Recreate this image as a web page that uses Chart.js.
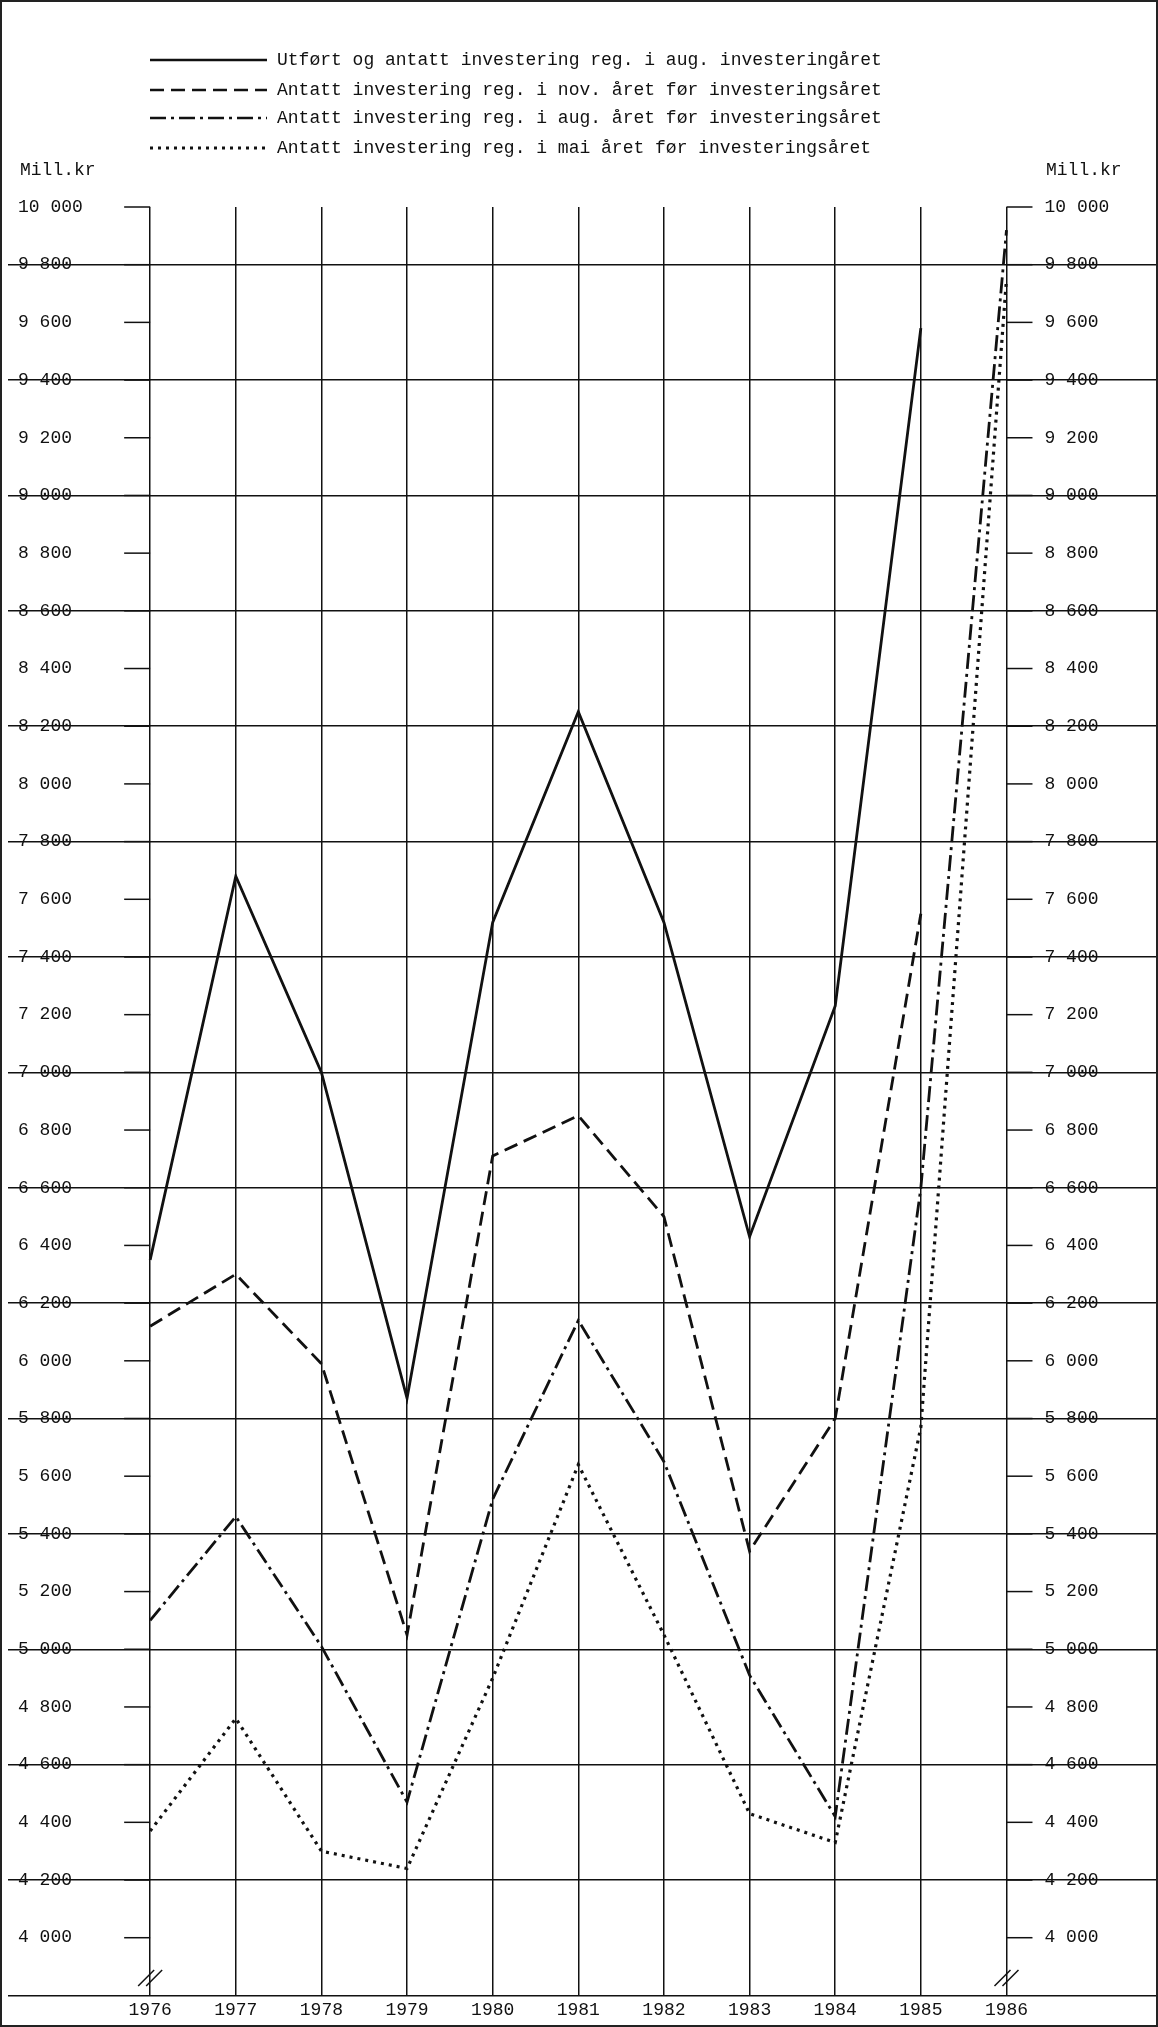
<!DOCTYPE html>
<html>
<head>
<meta charset="utf-8">
<script src="https://cdn.jsdelivr.net/npm/chart.js@4"></script>
<style>
  html, body { margin: 0; padding: 0; background: #fff; }
  #wrap { width: 1158px; height: 2027px; position: relative; box-sizing: border-box; border: 2px solid #222; }
  canvas { display: block; }
</style>
</head>
<body>
<div id="wrap"><canvas id="chart" width="1154" height="2023"></canvas></div>
<script>
// Data (mill. kr)
const years = [1976, 1977, 1978, 1979, 1980, 1981, 1982, 1983, 1984, 1985, 1986];
const utfort = [6350, 7680, 7000, 5870, 7520, 8250, 7520, 6430, 7230, 9580, null];
const novAaretFor = [6120, 6300, 5990, 5050, 6710, 6850, 6500, 5340, 5800, 7550, null];
const augAaretFor = [5100, 5460, 5010, 4470, 5520, 6140, 5650, 4910, 4420, 6600, 9920];
const maiAaretFor = [4370, 4760, 4300, 4240, 4900, 5640, 5050, 4430, 4330, 5770, 9750];
const legendLabels = [
  'Utført og antatt investering reg. i aug. investeringåret',
  'Antatt investering reg. i nov. året før investeringsåret',
  'Antatt investering reg. i aug. året før investeringsåret',
  'Antatt investering reg. i mai året før investeringsåret'
];
const dashes = [[], [14, 7], [16, 5, 3, 5], [3, 5]];

const FONT = '"Liberation Mono", "DejaVu Sans Mono", monospace';

function fmt(v) {
  return String(v).replace(/\B(?=(\d{3})+(?!\d))/g, ' ');
}

function series(values) {
  const out = [];
  values.forEach((v, i) => { if (v !== null) out.push({ x: years[i], y: v }); });
  return out;
}

// legend, Mill.kr labels, y tick labels on both sides, tick marks and axis breaks
const decor = {
  id: 'decor',
  afterDraw(chart) {
    const c = chart.ctx;
    const xs = chart.scales.x, ys = chart.scales.y;
    c.save();
    c.fillStyle = '#111';
    c.strokeStyle = '#111';
    c.font = '18px ' + FONT;
    c.textBaseline = 'middle';
    // legend
    const ly = [58, 88, 116, 146];
    legendLabels.forEach((t, i) => {
      c.lineWidth = i === 3 ? 3 : 2.5;
      c.setLineDash(dashes[i]);
      c.beginPath(); c.moveTo(148, ly[i]); c.lineTo(265, ly[i]); c.stroke();
      c.setLineDash([]);
      c.fillText(t, 275, ly[i]);
    });
    c.fillText('Mill.kr', 18, 168);
    c.fillText('Mill.kr', 1044, 168);
    // tick marks and labels
    const xl = xs.getPixelForValue(1976), xr = xs.getPixelForValue(1986);
    c.lineWidth = 1.5;
    ys.ticks.forEach(t => {
      if (t.value < 4000) return;
      const py = ys.getPixelForValue(t.value);
      c.beginPath(); c.moveTo(xl - 26, py); c.lineTo(xl, py); c.stroke();
      c.beginPath(); c.moveTo(xr, py); c.lineTo(xr + 26, py); c.stroke();
      c.fillText(fmt(t.value), 16, py);
      c.fillText(fmt(t.value), xr + 38, py);
    });
    // axis break marks
    const yb = ys.getPixelForValue(3860);
    [xl, xr].forEach(x => {
      for (const d of [-4, 4]) {
        c.beginPath(); c.moveTo(x - 8 + d, yb + 8); c.lineTo(x + 8 + d, yb - 8); c.stroke();
      }
    });
    c.restore();
  }
};

new Chart(document.getElementById('chart'), {
  type: 'line',
  data: {
    datasets: [utfort, novAaretFor, augAaretFor, maiAaretFor].map((d, i) => ({
      label: legendLabels[i],
      data: series(d),
      borderColor: '#111',
      borderWidth: i === 3 ? 3.2 : 2.8,
      borderDash: dashes[i],
      pointRadius: 0,
      tension: 0
    }))
  },
  options: {
    responsive: false,
    animation: false,
    layout: { padding: { top: 205, bottom: 0, left: 0, right: 0 } },
    plugins: { legend: { display: false }, tooltip: { enabled: false } },
    scales: {
      x: {
        type: 'linear',
        min: 1974.34,
        max: 1987.746,
        afterBuildTicks: s => { s.ticks = years.map(v => ({ value: v })); },
        ticks: { color: '#111', font: { family: FONT, size: 18 }, callback: v => String(v), maxRotation: 0, autoSkip: false, padding: 4 },
        grid: { color: '#111', lineWidth: 1.5, drawTicks: false },
        border: { display: false }
      },
      y: {
        type: 'linear',
        min: 3800,
        max: 10000,
        afterBuildTicks: s => {
          const t = [];
          for (let v = 3800; v <= 10000; v += 200) t.push({ value: v });
          s.ticks = t;
        },
        ticks: { mirror: true, callback: () => '' },
        grid: {
          drawTicks: false,
          lineWidth: 1.5,
          color: ctx => (ctx.tick && ctx.tick.value % 400 === 200) ? '#111' : 'rgba(0,0,0,0)'
        },
        border: { display: false }
      }
    }
  },
  plugins: [decor]
});
</script>
</body>
</html>
